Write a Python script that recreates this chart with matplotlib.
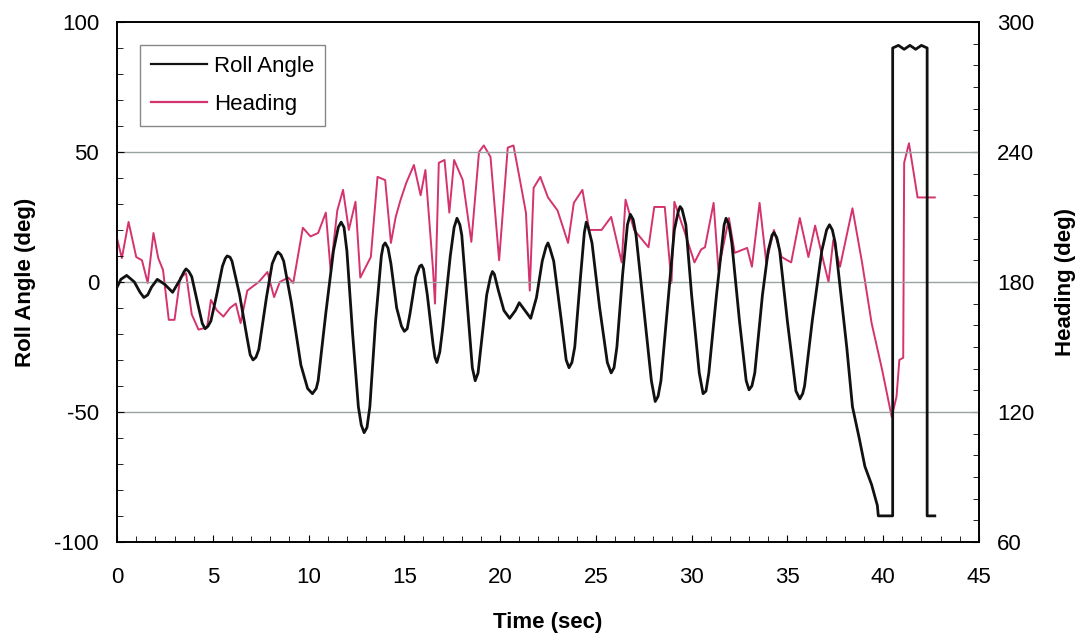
import matplotlib
matplotlib.use("Agg")
import matplotlib.pyplot as plt
from matplotlib.ticker import MultipleLocator

plt.rcParams['font.family'] = ['Liberation Sans', 'DejaVu Sans']
plt.rcParams['axes.unicode_minus'] = False

roll_t = [0.0, 0.2, 0.5, 0.9, 1.2, 1.4, 1.6, 1.8, 2.1, 2.5, 2.9, 3.3, 3.5, 3.6, 3.75, 3.9, 4.2, 4.45, 4.6, 4.75, 4.9,
          5.2, 5.5, 5.65, 5.75, 5.9, 6.0, 6.4, 6.8, 6.95, 7.1, 7.25, 7.4, 7.8, 8.1, 8.3, 8.4, 8.55, 8.7, 9.1, 9.6, 9.95, 10.2,
          10.4, 10.5, 10.9, 11.3, 11.55, 11.7, 11.85, 12.0, 12.3, 12.6, 12.75, 12.9, 13.05, 13.2, 13.5, 13.8, 13.9, 14.0, 14.15, 14.3,
          14.6, 14.85, 15.0, 15.15, 15.3, 15.6, 15.8, 15.9, 16.0, 16.2, 16.5, 16.6, 16.7, 16.85, 17.0, 17.4, 17.6, 17.75, 17.9, 18.0, 18.3,
          18.55, 18.7, 18.85, 19.0, 19.3, 19.5, 19.6, 19.7, 19.9, 20.2, 20.5, 20.8, 21.0, 21.3, 21.6, 21.9, 22.2,
          22.4, 22.5, 22.6, 22.8, 23.2, 23.45, 23.6, 23.75, 23.9, 24.2, 24.4, 24.5, 24.6, 24.8, 25.2, 25.6, 25.8, 25.95, 26.1, 26.4, 26.65, 26.8,
          26.95, 27.1, 27.5, 27.9, 28.1, 28.25, 28.4, 28.8, 29.1, 29.3, 29.4, 29.5, 29.7, 30.0, 30.4, 30.6, 30.75, 30.9, 31.3, 31.6,
          31.7, 31.8, 31.95, 32.1, 32.5, 32.85, 33.0, 33.15, 33.3, 33.7, 34.0, 34.2, 34.3, 34.45, 34.6, 35.0, 35.45, 35.65, 35.8, 35.9, 36.3,
          36.8, 37.05, 37.2, 37.35, 37.5, 37.8, 38.1, 38.4, 38.75, 39.05, 39.4, 39.7, 39.75, 40.5, 40.5,
          40.8, 41.1, 41.4, 41.7, 42.0, 42.3, 42.3, 42.7]
roll_deg = [-2, 1, 2.5, 0, -4, -6, -5, -2, 1, -1, -4, 1, 4, 5, 4, 2, -8, -16, -18, -17, -15,
            -5, 6, 9, 10, 9.5, 8, -5, -22, -28, -30, -29, -26, -6, 7, 10.5, 11.5, 10.5, 8, -8, -32, -41, -43,
            -41, -38, -12, 12, 21, 23, 21, 12, -20, -48, -55, -58, -56, -48, -15, 10, 14, 15, 13, 7,
            -10, -17, -19, -18, -12, 2, 6, 6.5, 5, -5, -24, -29, -31, -27, -18, 10, 21, 24.5, 22, 18, -10,
            -33, -38, -35, -25, -5, 2, 4, 3, -3, -11, -14, -11, -8, -11, -14, -6, 8,
            13.5, 15, 13, 8, -15, -30, -33, -31, -25, 2, 19, 23, 21, 15, -10, -31, -35, -33, -25, 3, 22, 26,
            24, 18, -10, -38, -46, -44, -38, -5, 20, 27, 29, 28, 22, -5, -35, -43, -42, -35, -5, 15,
            22, 24.5, 22, 15, -15, -38, -41.5, -40, -35, -5, 12, 18, 19, 17, 12, -15, -42, -45, -43, -40, -15,
            12, 20, 22, 20, 15, -5, -25, -48, -60, -71, -78, -86, -90, -90, 90,
            91, 89.5, 91, 89.5, 91, 90, -90, -90]

head_t = [0.0, 0.25, 0.6, 1.0, 1.3, 1.6, 1.9, 2.15, 2.4, 2.7, 3.0, 3.3, 3.6, 3.9, 4.25,
          4.7, 4.9, 5.2, 5.55, 5.9, 6.2, 6.45, 6.8, 7.4, 7.85, 8.2, 8.5, 8.95, 9.2, 9.7,
          10.1, 10.5, 10.9, 11.15, 11.5, 11.8, 12.1, 12.45, 12.7, 13.25, 13.6, 14.0, 14.3,
          14.55, 14.8, 15.1, 15.5, 15.85, 16.1, 16.5, 16.6, 16.8, 17.1, 17.35, 17.6, 18.05,
          18.5, 18.9, 19.15, 19.5, 19.95, 20.4, 20.7, 21.1, 21.35, 21.55, 21.75, 22.1, 22.5,
          23.0, 23.55, 23.85, 24.3, 24.65, 25.3, 25.8, 26.35, 26.55, 27.0, 27.75, 28.05,
          28.6, 28.95, 29.1, 29.6, 30.15, 30.5, 30.7, 31.15, 31.4, 31.95, 32.25, 32.9,
          33.15, 33.55, 33.9, 34.3, 34.7, 35.2, 35.65, 36.1, 36.45, 36.9, 37.15, 37.4,
          37.75, 38.4, 38.9, 39.4, 39.95, 40.45, 40.7, 40.85, 41.05, 41.1, 41.35, 41.55,
          41.8, 42.7]
head_deg = [200, 191, 207.7, 191.5, 190, 179.5, 202.6, 191, 185.5, 162.5, 162.5, 182, 184, 165, 158,
            159, 171.7, 167, 164, 168, 170, 161, 176, 180, 184.6, 173, 180, 182, 179.5, 205,
            201, 202.6, 212, 185.5, 213, 222.5, 204, 217, 182, 191.5, 228.5, 227, 198,
            210, 217.8, 225.7, 234, 220, 231.7, 185.5, 170, 235, 236.3, 212, 236.3, 227,
            198.5, 240, 243, 237.7, 190, 242, 243, 224, 212, 176, 223.4, 228.5, 219,
            213, 198, 216.5, 222.5, 204, 204, 210, 189, 218, 204, 196, 214.6,
            214.6, 179.5, 217, 204, 189, 195, 196, 216.5, 185.5, 209.5, 193.4, 195.7,
            187, 216.5, 189, 204, 191.5, 189, 209.5, 191.5, 206, 189, 180, 199.4,
            187, 214, 189, 161, 139.4, 117.7, 127, 144, 145, 235, 244, 233,
            219, 219]

x_ticks = [0, 5, 10, 15, 20, 25, 30, 35, 40, 45]
roll_ticks = [-100, -50, 0, 50, 100]
head_ticks = [60, 120, 180, 240, 300]

fig = plt.figure(figsize=(10.84, 6.39), dpi=100)
ax = fig.add_axes([0.108, 0.152, 0.795, 0.8136])
ax2 = ax.twinx()

for y in [-50, 0, 50]:
    ax.axhline(y, color='#9aa3a3', lw=1.0, zorder=0)

l1, = ax.plot(roll_t, roll_deg, color='#111111', lw=2.0, label='Roll Angle', zorder=3)
l2, = ax2.plot(head_t, head_deg, color='#d4336e', lw=1.4, label='Heading', zorder=4)

ax.set_xlim(0, 45)
ax.set_ylim(-100, 100)
ax2.set_ylim(60, 300)
ax.set_xticks(x_ticks)
ax.set_yticks(roll_ticks)
ax2.set_yticks(head_ticks)
ax.xaxis.set_minor_locator(MultipleLocator(1))
ax.yaxis.set_minor_locator(MultipleLocator(10))
ax2.yaxis.set_minor_locator(MultipleLocator(10))

ax.tick_params(axis='both', which='both', direction='in', labelsize=16)
ax.tick_params(axis='x', which='major', pad=18)
ax.tick_params(axis='y', which='major', pad=13)
ax.tick_params(axis='both', which='major', length=5)
ax.tick_params(axis='both', which='minor', length=4)
ax2.tick_params(axis='y', which='both', direction='in', labelsize=16, pad=13)
ax2.tick_params(axis='y', which='major', length=5)
ax2.tick_params(axis='y', which='minor', length=4)

for a in (ax, ax2):
    for s in a.spines.values():
        s.set_color('black')
        s.set_linewidth(1.2)

ax.set_xlabel('Time (sec)', fontsize=16, fontweight='bold')
ax.set_ylabel('Roll Angle (deg)', fontsize=16, fontweight='bold')
ax2.set_ylabel('Heading (deg)', fontsize=16, fontweight='bold')
ax.xaxis.set_label_coords(0.5, -0.135)
ax.yaxis.set_label_coords(-0.094, 0.5)
ax2.yaxis.set_label_coords(1.088, 0.5)

ax.set_zorder(ax2.get_zorder() + 1)
ax.patch.set_visible(False)

leg = ax.legend([l1, l2], ['Roll Angle', 'Heading'], loc='upper left',
                bbox_to_anchor=(0.027, 0.956), borderaxespad=0, fontsize=16, frameon=True,
                fancybox=False, edgecolor='#888888', framealpha=1,
                handlelength=2.5, handletextpad=0.3, borderpad=0.5, labelspacing=0.75)
leg.get_frame().set_linewidth(1.0)
for line in leg.get_lines():
    line.set_linewidth(1.6)

fig.savefig('out.png', dpi=100)
